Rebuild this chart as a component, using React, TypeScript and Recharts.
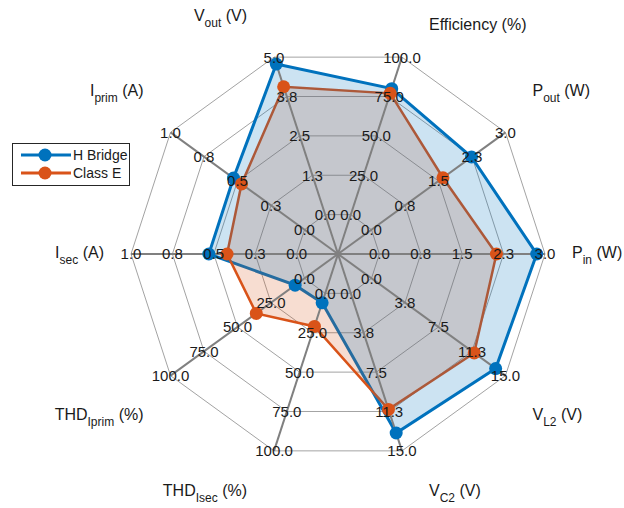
import React from 'react';
import { RadarChart, Radar, PolarGrid, PolarAngleAxis, PolarRadiusAxis, Legend } from 'recharts';

// axes go clockwise, starting just right of the top
const AXIS_KEYS = ['eff', 'pout', 'pin', 'vl2', 'vc2', 'thdIsec', 'thdIprim', 'isec', 'iprim', 'vout'];
const AXIS_NAMES = ['Efficiency', 'P', 'P', 'V', 'V', 'THD', 'THD', 'I', 'I', 'V'];
const AXIS_SUBS = ['', 'out', 'in', 'L2', 'C2', 'Isec', 'Iprim', 'sec', 'prim', 'out'];
const AXIS_UNITS = ['(%)', '(W)', '(W)', '(V)', '(V)', '(%)', '(%)', '(A)', '(A)', '(V)'];
const AXIS_MAX = [100, 3, 3, 15, 15, 100, 100, 1, 1, 5];

const TICK_LABELS = [
  ['0.0', '25.0', '50.0', '75.0', '100.0'],
  ['0.0', '0.8', '1.5', '2.3', '3.0'],
  ['0.0', '0.8', '1.5', '2.3', '3.0'],
  ['0.0', '3.8', '7.5', '11.3', '15.0'],
  ['0.0', '3.8', '7.5', '11.3', '15.0'],
  ['0.0', '25.0', '50.0', '75.0', '100.0'],
  ['0.0', '25.0', '50.0', '75.0', '100.0'],
  ['0.0', '0.3', '0.5', '0.8', '1.0'],
  ['0.0', '0.3', '0.5', '0.8', '1.0'],
  ['0.0', '1.3', '2.5', '3.8', '5.0'],
];

const SERIES_NAMES = ['H Bridge', 'Class E'];
const H_BRIDGE = [80, 2.24, 2.85, 13.9, 13.3, 6, 7, 0.53, 0.53, 4.78];
const CLASS_E = [77, 1.6, 2.12, 11.5, 11.05, 21, 36, 0.42, 0.47, 4.06];

const BLUE = '#0072BD';
const ORANGE = '#D95319';
const SERIES_COLORS = [BLUE, ORANGE];

const CX = 338;
const CY = 254;
const R = 207;
const RINGS = [0.2, 0.4, 0.6, 0.8, 1].map((f) => f * R);

// values are scaled to 0..1 of each axis max, 0 sits on the first ring
const data = AXIS_KEYS.map((key, i) => ({
  axis: key,
  hb: H_BRIDGE[i] / AXIS_MAX[i],
  ce: CLASS_E[i] / AXIS_MAX[i],
}));

const AngleTick = (props: any) => {
  const { payload } = props;
  const i = AXIS_KEYS.indexOf(payload.value);
  const deg = typeof payload.coordinate === 'number' ? payload.coordinate : 72 - 36 * i;
  const rad = (deg * Math.PI) / 180;
  const cos = Math.cos(rad);
  const sin = Math.sin(rad);
  const vx = CX + R * cos;
  const vy = CY - R * sin;
  let anchor = 'middle';
  let x = vx;
  if (cos > 0.01) {
    anchor = 'start';
    x = vx + 27;
  } else if (cos < -0.01) {
    anchor = 'end';
    x = vx - 27;
  }
  const hasSub = AXIS_SUBS[i] !== '';
  let y = vy - 1.5;
  if (sin > 0.01) y = vy - (hasSub ? 42 : 33);
  else if (sin < -0.01) y = vy + 39;
  return (
    <text x={x} y={y + 5.7} textAnchor={anchor} fontSize={16} fill="#1a1a1a">
      <tspan>{AXIS_NAMES[i]}</tspan>
      {hasSub && (
        <tspan fontSize={12} dy={6}>
          {AXIS_SUBS[i]}
        </tspan>
      )}
      <tspan dy={hasSub ? -6 : 0}>{'\u00A0' + AXIS_UNITS[i]}</tspan>
    </text>
  );
};

const radiusTick = (axisIdx: number) => (props: any) => {
  const { x, y, payload } = props;
  const k = Math.round(payload.value * 4);
  return (
    <text x={x} y={y + 5.4} textAnchor="middle" fontSize={15} fill="#1a1a1a">
      {TICK_LABELS[axisIdx][k]}
    </text>
  );
};

const renderLegend = () => (
  <div
    style={{
      boxSizing: 'border-box',
      width: 118,
      border: '1px solid #262626',
      background: '#fff',
      padding: '2px 0 3px 8px',
    }}
  >
    {SERIES_NAMES.map((name, s) => (
      <div key={name} style={{ display: 'flex', alignItems: 'center', height: 18 }}>
        <svg width={50} height={16}>
          <line x1={0} y1={8} x2={50} y2={8} stroke={SERIES_COLORS[s]} strokeWidth={3} />
          <circle cx={24} cy={8} r={6.5} fill={SERIES_COLORS[s]} />
        </svg>
        <span style={{ fontSize: 14, marginLeft: 2, color: '#1a1a1a' }}>{name}</span>
      </div>
    ))}
  </div>
);

export default function App() {
  return (
    <div
      style={{
        position: 'absolute',
        left: 0,
        top: 0,
        width: 624,
        height: 508,
        background: '#fff',
        fontFamily: '"Liberation Sans", Arial, sans-serif',
      }}
    >
      <RadarChart
        width={624}
        height={508}
        data={data}
        cx={CX}
        cy={CY}
        innerRadius={0}
        outerRadius={R}
        startAngle={72}
        endAngle={-288}
        margin={{ top: 0, right: 0, bottom: 0, left: 0 }}
      >
        <PolarGrid gridType="polygon" radialLines={false} polarRadius={RINGS} stroke="#a3a3a3" strokeWidth={1} zIndex={-100} />
        <PolarAngleAxis dataKey="axis" tick={AngleTick} axisLine={false} tickLine={false} />

        {/* lines and markers first, fills go on top like in the original */}
        <Radar
          name="H Bridge"
          dataKey="hb"
          stroke={BLUE}
          strokeWidth={3}
          fill="none"
          dot={{ r: 6.5, fill: BLUE, stroke: 'none' }}
          zIndex={100}
          isAnimationActive={false}
        />
        <Radar
          name="Class E"
          dataKey="ce"
          stroke={ORANGE}
          strokeWidth={2.5}
          fill="none"
          dot={{ r: 6.5, fill: ORANGE, stroke: 'none' }}
          zIndex={110}
          isAnimationActive={false}
        />
        <Radar dataKey="ce" stroke="none" fill={ORANGE} fillOpacity={0.2} dot={false} legendType="none" zIndex={200} isAnimationActive={false} />
        <Radar dataKey="hb" stroke="none" fill={BLUE} fillOpacity={0.2} dot={false} legendType="none" zIndex={210} isAnimationActive={false} />

        <PolarGrid gridType="polygon" polarRadius={[0]} stroke="#808080" strokeWidth={2} zIndex={300} />

        {AXIS_KEYS.map((key, i) => (
          <PolarRadiusAxis
            key={key}
            radiusAxisId={i}
            angle={72 - 36 * i}
            type="number"
            domain={[-0.25, 1]}
            allowDataOverflow
            ticks={[0, 0.25, 0.5, 0.75, 1]}
            tick={radiusTick(i)}
            axisLine={false}
            tickLine={false}
            zIndex={3000}
          />
        ))}

        <Legend
          layout="vertical"
          align="center"
          verticalAlign="middle"
          content={renderLegend}
          wrapperStyle={{ left: 12, top: 143, width: 'auto' }}
        />
      </RadarChart>
    </div>
  );
}
